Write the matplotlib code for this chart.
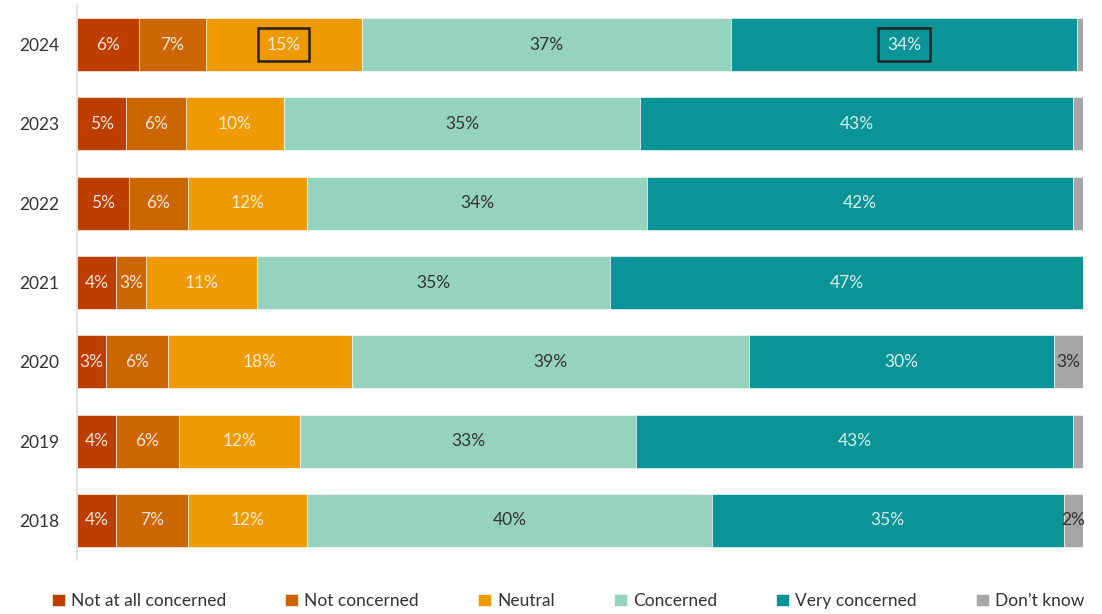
import numpy as np
import matplotlib.pyplot as plt

years = ["2018", "2019", "2020", "2021", "2022", "2023", "2024"]
categories = ["Not at all concerned", "Not concerned", "Neutral",
              "Concerned", "Very concerned", "Don\u2019t know"]

# shares per year (bottom row 2018 -> top row 2024)
not_at_all = [3.9, 3.9, 2.9, 3.9, 5.2, 4.9, 6.2]
not_concerned = [7.1, 6.2, 6.1, 3.0, 5.8, 5.9, 6.6]
neutral = [11.9, 12.1, 18.3, 11.0, 11.9, 9.8, 15.5]
concerned = [40.2, 33.4, 39.5, 35.1, 33.8, 35.4, 36.7]
very_concerned = [35.0, 43.4, 30.3, 47.0, 42.3, 43.0, 34.4]
dont_know = [1.9, 1.0, 2.9, 0.0, 1.0, 1.0, 0.6]

# labels shown on the bars
lab_not_at_all = ["4%", "4%", "3%", "4%", "5%", "5%", "6%"]
lab_not_concerned = ["7%", "6%", "6%", "3%", "6%", "6%", "7%"]
lab_neutral = ["12%", "12%", "18%", "11%", "12%", "10%", "15%"]
lab_concerned = ["40%", "33%", "39%", "35%", "34%", "35%", "37%"]
lab_very = ["35%", "43%", "30%", "47%", "42%", "43%", "34%"]
lab_dk = ["2%", "", "3%", "", "", "", ""]

colors = ["#BC3F00", "#CC6600", "#EE9A00", "#96D3BE", "#0B9497", "#A6A6A6"]
text_colors = ["#F3E2D6", "#F3E2D6", "#FBEBD0", "#333333", "#D5EFEE", "#333333"]

plt.rcParams['font.family'] = ['Lato', 'DejaVu Sans']

fig = plt.figure(figsize=(11.02, 6.14), dpi=100)
ax = fig.add_axes([77 / 1102, 1 - 560 / 614, 1006 / 1102, 555 / 614])

series = [not_at_all, not_concerned, neutral, concerned, very_concerned, dont_know]
labels = [lab_not_at_all, lab_not_concerned, lab_neutral, lab_concerned, lab_very, lab_dk]
y = np.arange(len(years))
left = np.zeros(len(years))
for vals, labs, col, tcol, name in zip(series, labels, colors, text_colors, categories):
    vals = np.array(vals)
    ax.barh(y, vals, left=left, height=0.67, color=col, edgecolor="white",
            linewidth=0.4, label=name)
    for i in range(len(years)):
        if labs[i]:
            boxed = (years[i] == "2024" and name in ("Neutral", "Very concerned"))
            ax.text(left[i] + vals[i] / 2, y[i], labs[i], ha="center", va="center",
                    fontsize=12.5, color=tcol,
                    bbox=dict(boxstyle="square,pad=0.5", fc="none", ec="#222222",
                              lw=1.8) if boxed else None)
    left += vals

ax.set_xlim(0, 100)
ax.set_ylim(-0.5, 6.5)
ax.set_yticks(y)
ax.set_yticklabels(years, fontsize=12.5, color="#333333")
ax.tick_params(axis="y", length=0, pad=13)
ax.set_xticks([])
for s in ["top", "right", "bottom"]:
    ax.spines[s].set_visible(False)
ax.spines["left"].set_color("#DDDDDD")
ax.spines["left"].set_linewidth(1.2)

fig.legend(loc="center", bbox_to_anchor=(568 / 1102, 1 - 601 / 614), ncol=6,
           frameon=False, fontsize=12.5, handlelength=0.75, handleheight=0.75,
           handletextpad=0.35, columnspacing=3.4, labelcolor="#333333")

fig.savefig("out.png", dpi=100)
